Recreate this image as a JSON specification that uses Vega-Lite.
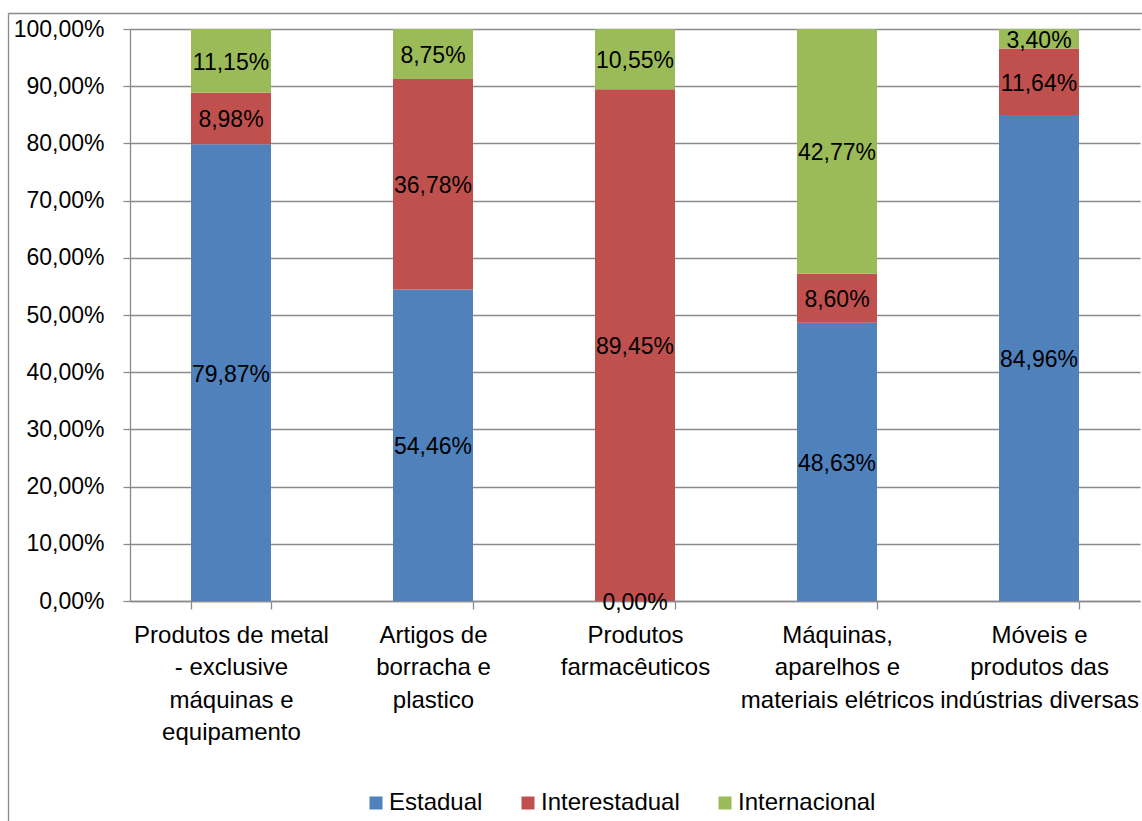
{
  "$schema": "https://vega.github.io/schema/vega-lite/v6.json",
  "width": 1010,
  "height": 572,
  "autosize": {"type": "none"},
  "padding": {"left": 130, "top": 29, "right": 2, "bottom": 220},
  "background": "white",
  "config": {
    "locale": {"number": {"decimal": ",", "thousands": ".", "grouping": [3], "currency": ["R$", ""]}},
    "font": "Liberation Sans",
    "view": {"stroke": null},
    "axis": {
      "labelFont": "Liberation Sans",
      "labelColor": "black",
      "domainColor": "#8a8a8a",
      "tickColor": "#8a8a8a",
      "gridColor": "#8a8a8a",
      "domainWidth": 1.3,
      "tickWidth": 1.3,
      "gridWidth": 1.3,
      "title": null
    }
  },
  "data": {
    "values": [
      {"setor": "Produtos de metal - exclusive máquinas e equipamento", "destino": "Estadual", "participacao": 0.7987},
      {"setor": "Produtos de metal - exclusive máquinas e equipamento", "destino": "Interestadual", "participacao": 0.0898},
      {"setor": "Produtos de metal - exclusive máquinas e equipamento", "destino": "Internacional", "participacao": 0.1115},
      {"setor": "Artigos de borracha e plastico", "destino": "Estadual", "participacao": 0.5446},
      {"setor": "Artigos de borracha e plastico", "destino": "Interestadual", "participacao": 0.3678},
      {"setor": "Artigos de borracha e plastico", "destino": "Internacional", "participacao": 0.0875},
      {"setor": "Produtos farmacêuticos", "destino": "Estadual", "participacao": 0.0},
      {"setor": "Produtos farmacêuticos", "destino": "Interestadual", "participacao": 0.8945},
      {"setor": "Produtos farmacêuticos", "destino": "Internacional", "participacao": 0.1055},
      {"setor": "Máquinas, aparelhos e materiais elétricos", "destino": "Estadual", "participacao": 0.4863},
      {"setor": "Máquinas, aparelhos e materiais elétricos", "destino": "Interestadual", "participacao": 0.086},
      {"setor": "Máquinas, aparelhos e materiais elétricos", "destino": "Internacional", "participacao": 0.4277},
      {"setor": "Móveis e produtos das indústrias diversas", "destino": "Estadual", "participacao": 0.8496},
      {"setor": "Móveis e produtos das indústrias diversas", "destino": "Interestadual", "participacao": 0.1164},
      {"setor": "Móveis e produtos das indústrias diversas", "destino": "Internacional", "participacao": 0.034}
    ]
  },
  "layer": [
    {
      "encoding": {
        "x": {
          "field": "setor",
          "type": "nominal",
          "sort": null,
          "scale": {"paddingInner": 0.604, "paddingOuter": 0.302},
          "axis": {
            "labelAngle": 0,
            "labelFontSize": 24,
            "labelLineHeight": 32.5,
            "labelBaseline": "top",
            "labelPadding": 14,
            "labelLimit": 0,
            "tickBand": "extent",
            "tickSize": 8,
            "grid": false,
            "labelExpr": "{'Produtos de metal - exclusive máquinas e equipamento': ['Produtos de metal', '- exclusive', 'máquinas e', 'equipamento'], 'Artigos de borracha e plastico': ['Artigos de', 'borracha e', 'plastico'], 'Produtos farmacêuticos': ['Produtos', 'farmacêuticos'], 'Máquinas, aparelhos e materiais elétricos': ['Máquinas,', 'aparelhos e', 'materiais elétricos'], 'Móveis e produtos das indústrias diversas': ['Móveis e', 'produtos das', 'indústrias diversas']}[datum.label]"
          }
        },
        "y": {
          "field": "participacao",
          "type": "quantitative",
          "stack": "zero",
          "scale": {"domain": [0, 1], "nice": false, "zero": true},
          "axis": {
            "values": [0, 0.1, 0.2, 0.3, 0.4, 0.5, 0.6, 0.7, 0.8, 0.9, 1],
            "format": ".2%",
            "labelFontSize": 23,
            "labelPadding": 19,
            "tickSize": 7,
            "grid": true
          }
        }
      },
      "layer": [
        {
          "mark": {"type": "bar"},
          "encoding": {
            "color": {
              "field": "destino",
              "type": "nominal",
              "scale": {
                "domain": ["Estadual", "Interestadual", "Internacional"],
                "range": ["#4F81BD", "#C0504D", "#9BBB59"]
              },
              "legend": {
                "orient": "none",
                "legendX": 234,
                "legendY": 762,
                "direction": "horizontal",
                "title": null,
                "symbolType": "square",
                "symbolSize": 169,
                "symbolStrokeWidth": 0,
                "symbolOpacity": 1,
                "labelFont": "Liberation Sans",
                "labelFontSize": 24,
                "labelColor": "black",
                "labelOffset": 1,
                "columnPadding": 33,
                "padding": 0,
                "labelLimit": 0
              }
            },
            "order": {"field": "destino", "sort": "ascending"}
          }
        },
        {
          "mark": {"type": "text", "fontSize": 23, "color": "black", "font": "Liberation Sans", "dy": 2},
          "encoding": {
            "y": {
              "field": "participacao",
              "type": "quantitative",
              "stack": "zero",
              "bandPosition": 0.5
            },
            "detail": {"field": "destino"},
            "order": {"field": "destino", "sort": "ascending"},
            "text": {"field": "participacao", "type": "quantitative", "format": ".2%"}
          }
        }
      ]
    },
    {
      "description": "Chart-area frame: top and left edges drawn as bare axis domains.",
      "mark": {"type": "point", "opacity": 0},
      "encoding": {
        "x": {
          "field": "setor",
          "type": "nominal",
          "sort": null,
          "scale": {"range": [-122, 1012]},
          "axis": {"orient": "top", "offset": 16, "domain": true, "ticks": false, "labels": false, "grid": false}
        },
        "y": {
          "field": "participacao",
          "type": "quantitative",
          "scale": {"domain": [0, 1], "range": [792, -16]},
          "axis": {"orient": "left", "offset": 122, "domain": true, "ticks": false, "labels": false, "grid": false}
        }
      }
    }
  ],
  "resolve": {
    "scale": {"x": "independent", "y": "independent"},
    "axis": {"x": "independent", "y": "independent"}
  }
}
